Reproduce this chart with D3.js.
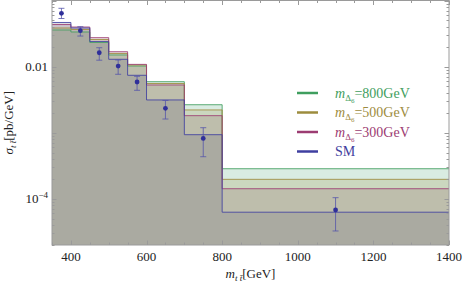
<!DOCTYPE html>
<html>
<head>
<meta charset="utf-8">
<script src="https://cdn.jsdelivr.net/npm/d3@7"></script>
<style>
  body { margin: 0; background: #fff; }
  svg { font-family: "Liberation Serif", "DejaVu Serif", serif; }
</style>
</head>
<body>
<svg></svg>
<script>
const width = 463;
const height = 288;
const margin = { left: 52, right: 14, top: 0.5, bottom: 43 };

// bin edges in GeV
const binEdges = [350, 400, 450, 500, 550, 600, 700, 800, 1400];

// step heights, pb/GeV
const smValues   = [0.0465, 0.0384, 0.0240, 0.0129, 0.00739, 0.00313, 0.000933, 0.0000627];
const m300Values = [0.0433, 0.0397, 0.0274, 0.0168, 0.0108, 0.00527, 0.00181, 0.000142];
const m500Values = [0.0384, 0.0364, 0.0257, 0.0158, 0.0106, 0.00555, 0.00221, 0.000197];
const m800Values = [0.0358, 0.0334, 0.0232, 0.0150, 0.0102, 0.00591, 0.00265, 0.000285];

// measured points with error bars
const dataX  = [375, 425, 475, 525, 575, 650, 750, 1100];
const dataY  = [0.0640, 0.0349, 0.0162, 0.0102, 0.00585, 0.00234, 0.000818, 0.0000677];
const dataHi = [0.0762, 0.0401, 0.0193, 0.0126, 0.00713, 0.00307, 0.00119, 0.000104];
const dataLo = [0.0534, 0.0290, 0.0125, 0.00765, 0.00438, 0.00161, 0.000433, 0.0000326];

const xTicks = [400, 600, 800, 1000, 1200, 1400];

const series = [
  { name: "800", values: m800Values, color: "#3f9e5e", fill: "#41a06e" },
  { name: "500", values: m500Values, color: "#9d8c3e", fill: "#988838" },
  { name: "300", values: m300Values, color: "#9c3c72", fill: "#8a5a62" },
  { name: "SM",  values: smValues,   color: "#3f3fa0", fill: "#5a5c78" }
];

const svg = d3.select("svg").attr("width", width).attr("height", height);

const x = d3.scaleLinear().domain([350, 1400]).range([margin.left, width - margin.right]);
const y = d3.scaleLog().domain([2e-5, 0.1]).range([height - margin.bottom, margin.top]);

const x0 = x.range()[0], x1 = x.range()[1];
const y0 = y.range()[0], y1 = y.range()[1];

const stepPoints = vals => vals.map((v, i) => [binEdges[i], v]).concat([[binEdges[binEdges.length - 1], vals[vals.length - 1]]]);

const area = d3.area()
  .curve(d3.curveStepAfter)
  .x(d => x(d[0]))
  .y0(y0)
  .y1(d => y(d[1]));

const line = d3.line()
  .curve(d3.curveStepAfter)
  .x(d => x(d[0]))
  .y(d => y(d[1]));

// fills
series.forEach(s => {
  svg.append("path")
    .attr("d", area(stepPoints(s.values)))
    .attr("fill", s.fill)
    .attr("fill-opacity", 0.2);
});

// step outlines
series.forEach(s => {
  svg.append("path")
    .attr("d", line(stepPoints(s.values)))
    .attr("fill", "none")
    .attr("stroke", s.color)
    .attr("stroke-opacity", 0.85)
    .attr("stroke-width", 1);
});

// frame
svg.append("rect")
  .attr("x", x0).attr("y", y1)
  .attr("width", x1 - x0).attr("height", y0 - y1)
  .attr("fill", "none").attr("stroke", "#9a9a9a").attr("stroke-width", 1);

// x ticks (bottom and top, inward)
const xMinor = d3.range(350, 1401, 50);
const tickG = svg.append("g").attr("stroke", "#9a9a9a").attr("stroke-width", 1);
xMinor.forEach(v => {
  const len = v % 200 === 0 ? 4.5 : 2.5;
  const px = Math.round(x(v)) + 0.5;
  tickG.append("line").attr("x1", px).attr("x2", px).attr("y1", y0).attr("y2", y0 - len);
  tickG.append("line").attr("x1", px).attr("x2", px).attr("y1", y1).attr("y2", y1 + len);
});

// y ticks (left and right, inward)
const yTickVals = [];
for (let e = -5; e <= -1; e++) {
  for (let m = 1; m <= 9; m++) {
    const v = m * Math.pow(10, e);
    if (v >= 2e-5 && v <= 0.1) yTickVals.push({ v, major: m === 1 });
  }
}
yTickVals.forEach(t => {
  const len = t.major ? 4.5 : 2.5;
  const py = Math.round(y(t.v)) + 0.5;
  tickG.append("line").attr("x1", x0).attr("x2", x0 + len).attr("y1", py).attr("y2", py);
  tickG.append("line").attr("x1", x1).attr("x2", x1 - len).attr("y1", py).attr("y2", py);
});

// tick labels
svg.append("g").selectAll("text")
  .data(xTicks)
  .enter().append("text")
  .attr("x", d => x(d))
  .attr("y", y0 + 16)
  .attr("text-anchor", "middle")
  .attr("font-size", 13)
  .attr("fill", "#222")
  .text(d => d);

svg.append("text")
  .attr("x", x0 - 4).attr("y", y(0.01) + 4.5)
  .attr("text-anchor", "end").attr("font-size", 13).attr("fill", "#222")
  .text("0.01");

const lab4 = svg.append("text")
  .attr("x", x0 - 4).attr("y", y(1e-4) + 4.5)
  .attr("text-anchor", "end").attr("font-size", 13).attr("fill", "#222");
lab4.append("tspan").text("10");
lab4.append("tspan").attr("font-size", 9).attr("dy", -5).text("\u22124");

// data points with error bars
const pts = svg.append("g");
dataX.forEach((d, i) => {
  const px = x(d);
  pts.append("line")
    .attr("x1", px).attr("x2", px)
    .attr("y1", y(dataHi[i])).attr("y2", y(dataLo[i]))
    .attr("stroke", "#5555aa").attr("stroke-opacity", 0.8);
  [dataHi[i], dataLo[i]].forEach(v => {
    pts.append("line")
      .attr("x1", px - 3).attr("x2", px + 3)
      .attr("y1", y(v)).attr("y2", y(v))
      .attr("stroke", "#5555aa").attr("stroke-opacity", 0.8);
  });
  pts.append("circle")
    .attr("cx", px).attr("cy", y(dataY[i])).attr("r", 2.4)
    .attr("fill", "#2f2f9a");
});

// legend
series.forEach((s, i) => {
  const ly = 93 + i * 19.5;
  svg.append("line")
    .attr("x1", 297).attr("x2", 318)
    .attr("y1", ly).attr("y2", ly)
    .attr("stroke", s.color).attr("stroke-width", 2.5);
  const t = svg.append("text")
    .attr("x", 335).attr("y", ly + 4.5)
    .attr("font-size", 14).attr("fill", s.color);
  if (s.name === "SM") {
    t.text("SM");
  } else {
    t.append("tspan").attr("font-style", "italic").text("m");
    t.append("tspan").attr("font-size", 9).attr("dy", 3).text("\u0394");
    t.append("tspan").attr("font-size", 7).attr("dy", 2).text("6");
    t.append("tspan").attr("dy", -5).text("=" + s.name + "GeV");
  }
});

// axis titles
const xt = svg.append("text")
  .attr("x", (x0 + x1) / 2).attr("y", 278)
  .attr("text-anchor", "middle").attr("font-size", 13).attr("fill", "#222");
xt.append("tspan").attr("font-style", "italic").text("m");
xt.append("tspan").attr("font-style", "italic").attr("font-size", 9).attr("dy", 3).text("t t\u0304");
xt.append("tspan").attr("dy", -3).text("[GeV]");

const yt = svg.append("text")
  .attr("transform", `translate(13, ${(y0 + y1) / 2}) rotate(-90)`)
  .attr("text-anchor", "middle").attr("font-size", 13).attr("fill", "#222");
yt.append("tspan").attr("font-style", "italic").text("\u03c3");
yt.append("tspan").attr("font-style", "italic").attr("font-size", 9).attr("dy", 3).text("t t\u0304");
yt.append("tspan").attr("dy", -3).text("[pb/GeV]");
</script>
</body>
</html>
